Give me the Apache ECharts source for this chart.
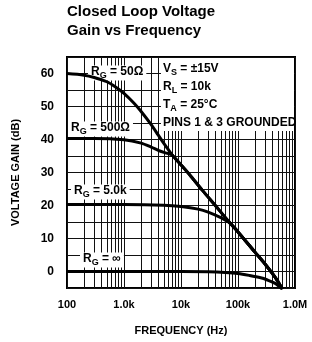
<!DOCTYPE html>
<html>
<head>
<meta charset="utf-8">
<script src="https://cdn.jsdelivr.net/npm/echarts@6/dist/echarts.min.js"></script>
<style>
html,body{margin:0;padding:0;background:#fff;}
#chart{width:312px;height:342px;}
</style>
</head>
<body>
<div id="chart"></div>
<script>
// ---- Data ----
const freqTickValues = [100, 1000, 10000, 100000, 1000000];
const freqTickLabels = ['100', '1.0k', '10k', '100k', '1.0M'];
const gainTickLabels = ['0', '10', '20', '30', '40', '50', '60'];

const rg50Freq = [100, 200, 300, 500, 700, 1000, 1500, 2000, 3000, 4000, 5000, 6000, 7000, 10000, 15000, 24000, 40000, 70000, 100000, 200000, 300000, 400000, 500000, 600000];
const rg50Gain = [60, 59.5, 58.8, 57.5, 56, 54, 51, 48.5, 44.5, 41.3, 38.8, 36.9, 35.3, 32.3, 28.8, 24.5, 20, 15, 12, 5.8, 2.2, -0.6, -3, -5.4];

const rg500Freq = [100, 300, 1000, 2000, 3000, 4000, 5000, 6000, 7000, 10000, 15000, 24000, 40000, 70000, 100000, 200000, 300000, 400000, 500000, 600000];
const rg500Gain = [40.3, 40.3, 39.9, 38.9, 37.7, 36.7, 36.1, 35.7, 35.3, 32.3, 28.8, 24.5, 20, 15, 12, 5.8, 2.2, -0.6, -3, -5.4];

const rg5kFreq = [100, 1000, 5000, 10000, 20000, 30000, 50000, 70000, 100000, 200000, 300000, 400000, 500000, 600000];
const rg5kGain = [20.3, 20.3, 20.1, 19.7, 18.9, 18, 16.3, 14.8, 12, 5.8, 2.2, -0.6, -3, -5.4];

const rgInfFreq = [100, 1000, 10000, 30000, 60000, 100000, 160000, 250000, 320000, 450000, 600000];
const rgInfGain = [0, 0, 0, -0.1, -0.3, -0.6, -1.2, -1.9, -2.5, -3.6, -5.4];

// ---- Helpers ----
const pairs = (xs, ys) => xs.map((x, i) => [x, ys[i]]);
const minorFreqs = [];
for (let d = 100; d < 1000000; d *= 10) {
  for (let m = 2; m <= 9; m++) minorFreqs.push(d * m);
}

const FONTW = '"Liberation Sans", Arial, sans-serif';

const chart = echarts.init(document.getElementById('chart'), null, {renderer: 'canvas'});

function curve(name, xs, ys) {
  return {
    name, type: 'line', data: pairs(xs, ys), showSymbol: false, symbol: 'none',
    smooth: 0.3, z: 200, lineStyle: {color: '#000', width: 3}, itemStyle: {color: '#000'}, clip: true,
    silent: true, animation: false
  };
}

const richBase = {
  r: {fontFamily: FONTW, fontWeight: 'bold', fontSize: 12, fill: '#000', lineHeight: 15, verticalAlign: 'top'},
  s: {fontFamily: FONTW, fontWeight: 'bold', fontSize: 9, fill: '#000', lineHeight: 15, verticalAlign: 'bottom'}
};

function subText(x, y, main, sub, rest, bg) {
  return {
    type: 'text', x, y, z: 100,
    style: Object.assign({
      text: '{r|' + main + '}{s|' + sub + '}{r|' + rest + '}',
      rich: richBase,
      verticalAlign: 'middle', align: 'left'
    }, bg ? {backgroundColor: '#fff', padding: [0, 3, 0, 3]} : {})
  };
}

const option = {
  animation: false,
  backgroundColor: '#fff',
  grid: {left: 67, right: 17, top: 57, bottom: 54, show: true, borderColor: '#000', borderWidth: 2, backgroundColor: 'transparent'},
  xAxis: {
    type: 'log', logBase: 10, min: 100, max: 1000000,
    name: 'FREQUENCY (Hz)', nameLocation: 'middle', nameGap: 37,
    nameTextStyle: {fontFamily: FONTW, fontWeight: 'bold', fontSize: 11, color: '#000'},
    axisLine: {show: false}, axisTick: {show: false},
    axisLabel: {
      margin: 11, color: '#000', fontFamily: FONTW, fontWeight: 'bold', fontSize: 11,
      formatter: v => {
        const i = freqTickValues.findIndex(t => Math.abs(Math.log10(t) - Math.log10(v)) < 1e-6);
        return i >= 0 ? freqTickLabels[i] : '';
      }
    },
    splitLine: {show: true, lineStyle: {color: '#111', width: 1}}
  },
  yAxis: {
    type: 'value', min: -5, max: 65, interval: 5,
    name: 'VOLTAGE GAIN (dB)', nameLocation: 'middle', nameGap: 46,
    nameTextStyle: {fontFamily: FONTW, fontWeight: 'bold', fontSize: 11, color: '#000'},
    axisLine: {show: false}, axisTick: {show: false},
    axisLabel: {
      margin: 13, color: '#000', fontFamily: FONTW, fontWeight: 'bold', fontSize: 12,
      formatter: v => {
        const s = String(Math.round(v));
        return gainTickLabels.indexOf(s) >= 0 && v % 10 === 0 ? s : '';
      }
    },
    splitLine: {show: true, lineStyle: {color: '#111', width: 1}}
  },
  series: [
    {
      name: 'minor-grid', type: 'line', data: [], z: 1, silent: true,
      markLine: {
        silent: true, symbol: ['none', 'none'], animation: false, z: 1,
        label: {show: false},
        lineStyle: {color: '#111', width: 1, type: 'solid'},
        data: minorFreqs.map(v => ({xAxis: v}))
      }
    },
    curve('RG = 50Ω', rg50Freq, rg50Gain),
    curve('RG = 500Ω', rg500Freq, rg500Gain),
    curve('RG = 5.0k', rg5kFreq, rg5kGain),
    curve('RG = ∞', rgInfFreq, rgInfGain)
  ],
  graphic: [
    {type: 'text', x: 67, y: 12, z: 100, style: {text: 'Closed Loop Voltage', fontFamily: FONTW, fontWeight: 'bold', fontSize: 15, fill: '#000', verticalAlign: 'middle'}},
    {type: 'text', x: 67, y: 31, z: 100, style: {text: 'Gain vs Frequency', fontFamily: FONTW, fontWeight: 'bold', fontSize: 15, fill: '#000', verticalAlign: 'middle'}},
    {type: 'rect', z: 99, shape: {x: 161, y: 58, width: 133, height: 73}, style: {fill: '#fff'}},
    subText(163, 70, 'V', 'S', ' = ±15V', false),
    subText(163, 88, 'R', 'L', ' = 10k', false),
    subText(163, 106, 'T', 'A', ' = 25°C', false),
    {type: 'text', x: 163, y: 123, z: 100, style: {text: 'PINS 1 & 3 GROUNDED', fontFamily: FONTW, fontWeight: 'bold', fontSize: 12, fill: '#000', verticalAlign: 'middle'}},
    subText(88, 73, 'R', 'G', ' = 50Ω', true),
    subText(68, 129, 'R', 'G', ' = 500Ω', true),
    subText(71, 192, 'R', 'G', ' = 5.0k', true),
    subText(80, 260, 'R', 'G', ' = ∞', true)
  ]
};

chart.setOption(option);
</script>
</body>
</html>
